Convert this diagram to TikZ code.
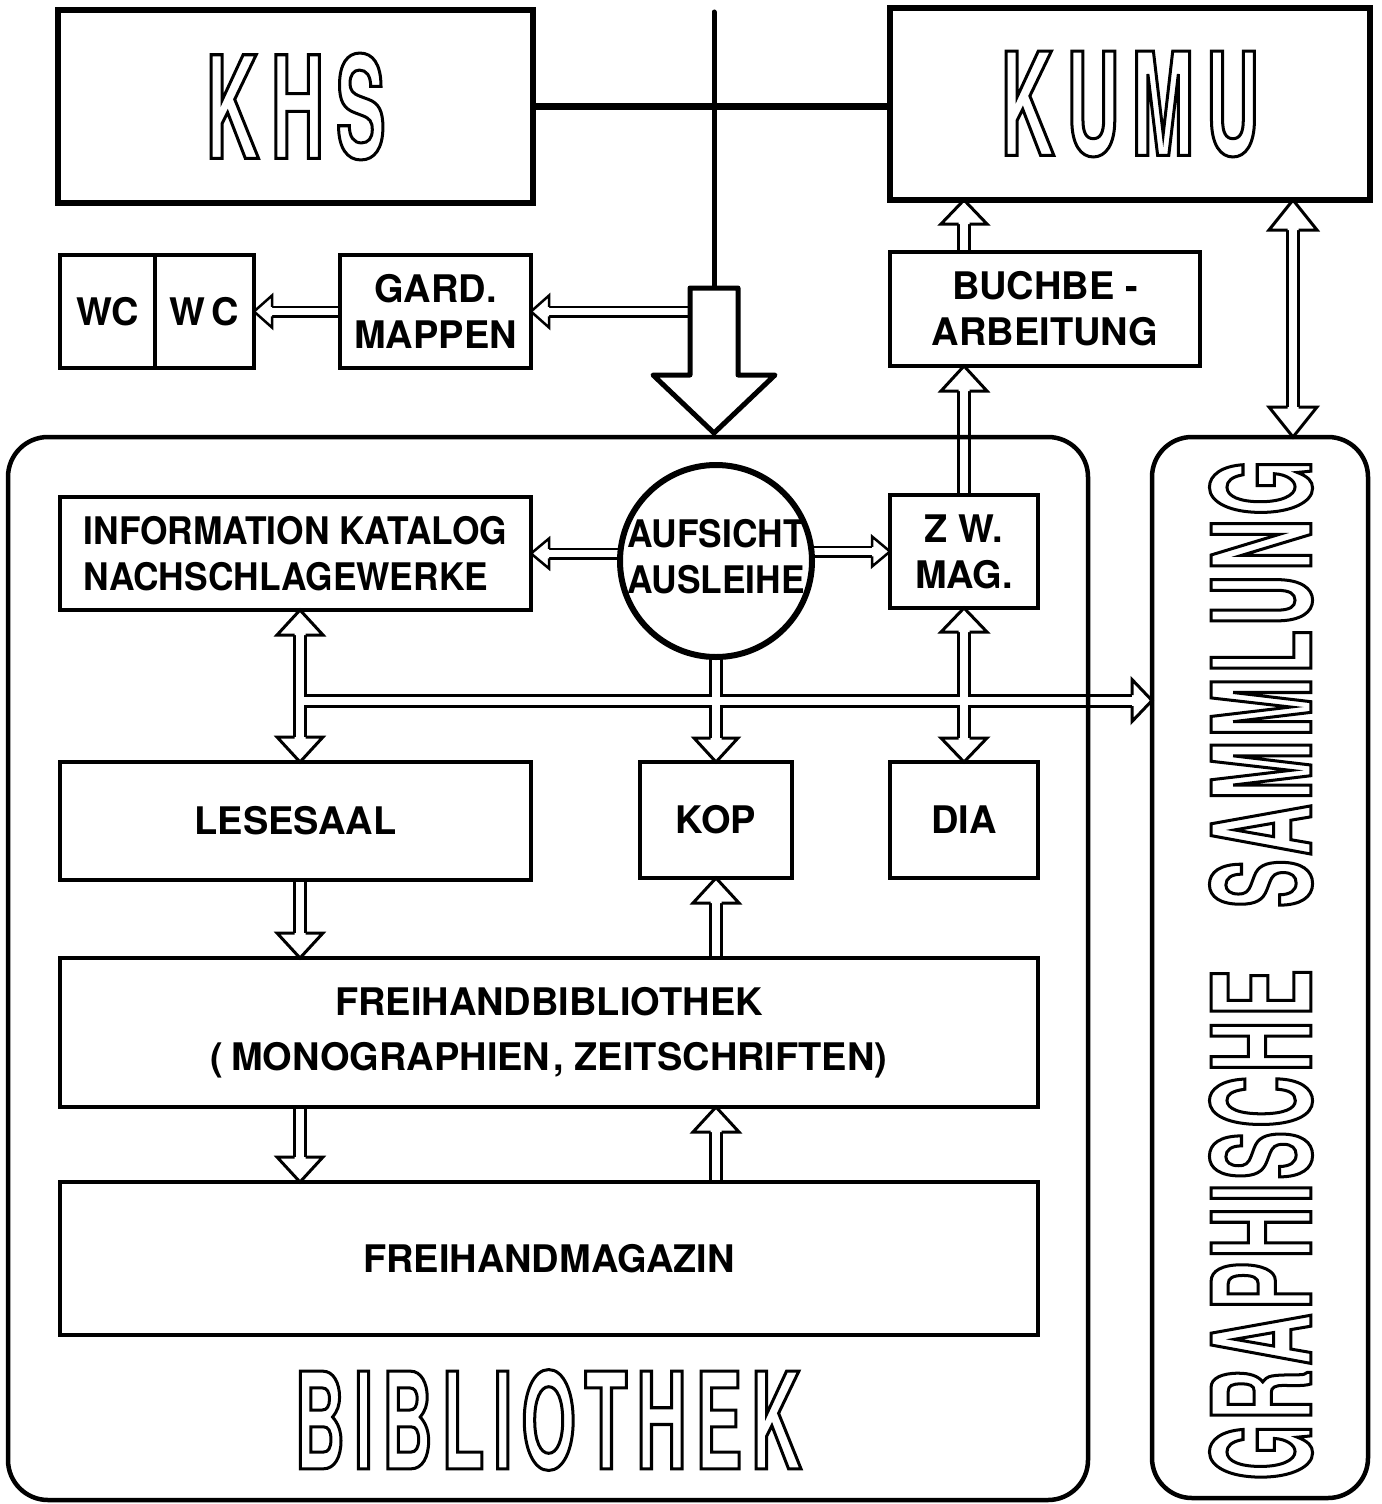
\documentclass[tikz,border=0pt]{standalone}
\usepackage{fontspec}
\setmainfont{TeX Gyre Heros}
\newfontfamily\titlefont{TeX Gyre Heros}[FakeStretch=0.52]
\newfontfamily\narrowfont{TeX Gyre Heros}[FakeStretch=0.93]
\usetikzlibrary{backgrounds}
\newcommand\olt[1]{\special{pdf:literal direct 1 Tr 3 w}#1\special{pdf:literal direct 0 Tr 1 w}}
\newcommand\lblfont{\bfseries\fontsize{38}{46}\selectfont}
\newcommand\lblnarrow{\narrowfont\bfseries\fontsize{38}{46}\selectfont}
\newcommand\ttlfont[1]{\titlefont\bfseries\fontsize{#1}{#1}\selectfont}
\tikzset{
 cellbox/.style={draw, line width=4.5pt, inner sep=0pt, outer sep=0pt, align=center, font=\lblfont},
 mainbox/.style={draw, line width=6pt, inner sep=0pt, outer sep=0pt},
 roomframe/.style={draw, line width=4.5pt, rounded corners=40pt, inner sep=0pt, outer sep=0pt},
 pipeA/.style={draw, double=white, double distance=8pt, line width=3pt},
 pipeB/.style={draw, double=white, double distance=7pt, line width=2.5pt},
 headA/.style={draw, fill=white, line width=3pt, line join=miter},
 headB/.style={draw, fill=white, line width=2.5pt, line join=miter},
}
% heads: [style]{tip}{length}{half width}{shaft half width}
\newcommand\hup[5][headA]{\draw[#1] ([shift={(-#5,#3)}]#2) -- ([shift={(-#4,#3)}]#2) -- (#2) -- ([shift={(#4,#3)}]#2) -- ([shift={(#5,#3)}]#2);}
\newcommand\hdown[5][headA]{\draw[#1] ([shift={(-#5,-#3)}]#2) -- ([shift={(-#4,-#3)}]#2) -- (#2) -- ([shift={(#4,-#3)}]#2) -- ([shift={(#5,-#3)}]#2);}
\newcommand\hleft[5][headA]{\draw[#1] ([shift={(#3,-#5)}]#2) -- ([shift={(#3,-#4)}]#2) -- (#2) -- ([shift={(#3,#4)}]#2) -- ([shift={(#3,#5)}]#2);}
\newcommand\hright[5][headA]{\draw[#1] ([shift={(-#3,-#5)}]#2) -- ([shift={(-#3,-#4)}]#2) -- (#2) -- ([shift={(-#3,#4)}]#2) -- ([shift={(-#3,#5)}]#2);}
\begin{document}
\begin{tikzpicture}[x=1pt,y=-1pt]
\useasboundingbox (0,0) rectangle (1381,1504);
% ---------- top row
\node[mainbox, minimum width=475pt, minimum height=193pt, font={\ttlfont{142}}] (khs) at (295.5,106.5) {\olt{K\hspace{12pt}H\hspace{12pt}S}};
\node[mainbox, minimum width=480pt, minimum height=192pt, font={\ttlfont{143}}] (kumu) at (1130,104) {\olt{K\hspace{12pt}U\hspace{12pt}M\hspace{12pt}U}\hspace{16pt}};
\node[cellbox, minimum width=95pt, minimum height=113pt] (wc1) at (107.5,311.5) {WC};
\node[cellbox, minimum width=99pt, minimum height=113pt] (wc2) at (204.5,311.5) {W\hspace{6pt}C};
\node[cellbox, minimum width=191pt, minimum height=113pt] (gard) at (435.5,311.5) {GARD.\\MAPPEN};
\node[cellbox, minimum width=310pt, minimum height=114pt] (bu) at (1045,309) {BUCHBE -\\ARBEITUNG};
% ---------- rooms
\node[roomframe, minimum width=1080pt, minimum height=1063pt] (bib) at (548,968.5) {};
\node[roomframe, minimum width=216pt, minimum height=1061pt] (sam) at (1260,967.5) {};
\node[font={\ttlfont{134}}, inner sep=0pt] (bibtitle) at (548,1420) {\olt{B\hspace{9pt}I\hspace{9pt}B\hspace{9pt}L\hspace{9pt}I\hspace{9pt}O\hspace{9pt}T\hspace{9pt}H\hspace{9pt}E\hspace{9pt}K}};
\node[font={\ttlfont{137}}, inner sep=0pt, rotate=90] (samtitle) at (1261,970) {\olt{G\hspace{4pt}R\hspace{4pt}A\hspace{4pt}P\hspace{4pt}H\hspace{4pt}I\hspace{4pt}S\hspace{4pt}C\hspace{4pt}H\hspace{4pt}E\hspace{42pt} S\hspace{4pt}A\hspace{4pt}M\hspace{4pt}M\hspace{4pt}L\hspace{4pt}U\hspace{4pt}N\hspace{4pt}G}};
% ---------- inside the library
\node[cellbox, font=\lblnarrow, align=left, minimum width=471pt, minimum height=113pt] (info) at (295.5,553.5) {INFORMATION KATALOG\\NACHSCHLAGEWERKE};
\node[draw, circle, line width=6pt, minimum size=192pt, inner sep=0pt, outer sep=0pt] (circ) at (716,561) {};
\node[font=\lblnarrow, align=center, inner sep=0pt] (circtxt) at (716,557) {AUFSICHT\\AUSLEIHE};
\node[cellbox, minimum width=148pt, minimum height=113pt] (zw) at (964,551.5) {Z W.\\MAG.};
\node[cellbox, minimum width=471pt, minimum height=118pt] (lese) at (295.5,821) {LESESAAL};
\node[cellbox, minimum width=152pt, minimum height=116pt] (kop) at (716,820) {KOP};
\node[cellbox, minimum width=148pt, minimum height=116pt] (dia) at (964,820) {DIA};
\node[cellbox, minimum width=978pt, minimum height=149pt, font={\bfseries\fontsize{38}{55}\selectfont}] (fb) at (549,1032.5) {FREIHANDBIBLIOTHEK\\(\hspace{8pt}MONOGRAPHIEN\hspace{3pt}, ZEITSCHRIFTEN)};
\node[cellbox, minimum width=978pt, minimum height=153pt] (fm) at (549,1258.5) {FREIHANDMAGAZIN};
% ---------- entrance
\coordinate (top) at (714,12);
\coordinate (entry) at (714,288);
\coordinate (entryL) at (690,288);
\draw[line width=5pt, line cap=round] (top) -- (entry);
\draw[line width=7pt] (khs.east) -- (khs.east -| kumu.west);
\draw[line width=5pt, line join=round, fill=white] (entryL) -- (738,288) -- (738,375) -- (775,375) -- (714,433) -- (653,375) -- (690,375) -- cycle;
% ---------- connector end points
\coordinate (ax) at (300,0);
\coordinate (band) at (0,700.5);
\coordinate (samx) at (1293,0);
\coordinate (c1s) at (entryL |- gard.east);
\coordinate (c4s) at (zw.north |- bu.north);
\coordinate (c4t) at (zw.north |- kumu.south);
\coordinate (c5t) at (zw.north |- bu.south);
\coordinate (c6a) at (samx |- kumu.south);
\coordinate (c6b) at (samx |- sam.north);
\coordinate (c7s) at (circ.west |- info.east);
\coordinate (c8s) at (circ.east |- zw.west);
\coordinate (c9a) at (ax |- info.south);
\coordinate (c9b) at (ax |- lese.north);
\coordinate (cbs) at (ax |- band);
\coordinate (cbt) at (sam.west |- band);
\coordinate (c13s) at (ax |- lese.south);
\coordinate (c13t) at (ax |- fb.north);
\coordinate (c14s) at (kop.south |- fb.north);
\coordinate (c15s) at (ax |- fb.south);
\coordinate (c15t) at (ax |- fm.north);
\coordinate (c16s) at (kop.south |- fm.north);
\coordinate (c16t) at (kop.south |- fb.south);
\begin{pgfonlayer}{background}
\draw[pipeA]
  (c4s) -- ([shift={(0,24)}]c4t)
  (zw.north) -- ([shift={(0,25)}]c5t)
  ([shift={(0,30)}]c6a) -- ([shift={(0,-30)}]c6b)
  ([shift={(0,25)}]c9a) -- ([shift={(0,-25)}]c9b)
  (cbs) -- ([shift={(-20,0)}]cbt)
  (circ.south) -- ([shift={(0,-24)}]kop.north)
  ([shift={(0,24)}]zw.south) -- ([shift={(0,-24)}]dia.north)
  (c13s) -- ([shift={(0,-25)}]c13t)
  (c14s) -- ([shift={(0,25)}]kop.south)
  (c15s) -- ([shift={(0,-25)}]c15t)
  (c16s) -- ([shift={(0,25)}]c16t);
\draw[pipeB]
  (c1s) -- ([shift={(18,0)}]gard.east)
  (gard.west) -- ([shift={(18,0)}]wc2.east)
  (c7s) -- ([shift={(18,0)}]info.east)
  (c8s) -- ([shift={(-18,0)}]zw.west);
\hup{c4t}{24}{23}{5.5}
\hup{c5t}{25}{23}{5.5}
\hup{c6a}{30}{24}{5.5}
\hdown{c6b}{30}{24}{5.5}
\hup{c9a}{25}{23}{5.5}
\hdown{c9b}{25}{23}{5.5}
\hright{cbt}{20}{21}{5.5}
\hdown{kop.north}{24}{22}{5.5}
\hup{zw.south}{24}{23}{5.5}
\hdown{dia.north}{24}{23}{5.5}
\hdown{c13t}{25}{23}{5.5}
\hup{kop.south}{25}{23}{5.5}
\hdown{c15t}{25}{23}{5.5}
\hup{c16t}{25}{23}{5.5}
\hleft[headB]{gard.east}{18}{16}{4.75}
\hleft[headB]{wc2.east}{18}{16}{4.75}
\hleft[headB]{info.east}{18}{15}{4.75}
\hright[headB]{zw.west}{18}{15}{4.75}
\end{pgfonlayer}
\end{tikzpicture}
\end{document}
